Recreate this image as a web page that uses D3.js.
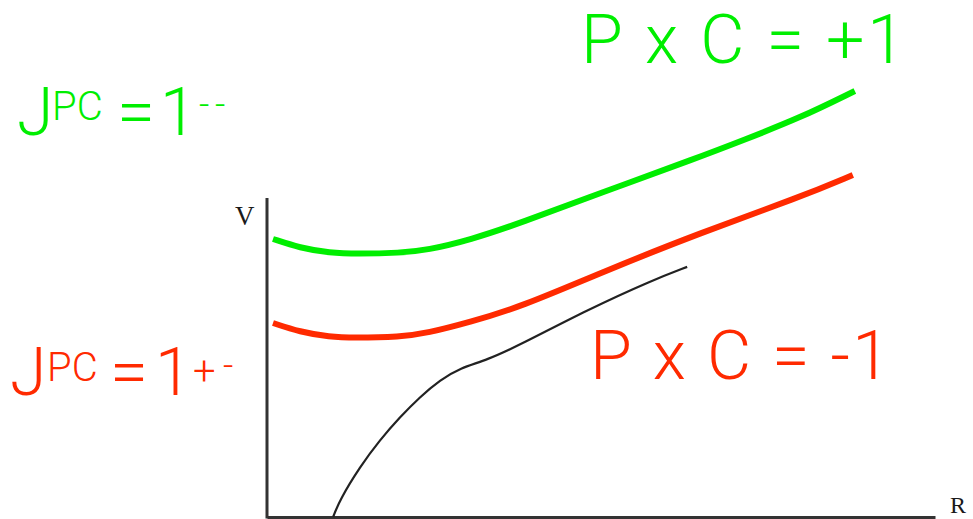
<!DOCTYPE html>
<html>
<head>
<meta charset="utf-8">
<script src="https://cdn.jsdelivr.net/npm/d3@7"></script>
<style>
  html, body { margin: 0; padding: 0; background: #fff; }
  svg { display: block; }
</style>
</head>
<body>
<svg id="chart" width="973" height="519"></svg>
<script>
// Potential V(R) sketches for the two PC = ±1 configurations plus the ground-state curve.
const greenR = [0.9, 4.9, 9.4, 13.5, 19.9, 24.0, 30.4, 37.9, 49.9, 64.8, 71.3, 79.8, 88.0];
const greenV = [87.7, 84.9, 83.3, 83.0, 83.3, 84.2, 87.4, 92.7, 102.2, 113.6, 118.9, 125.9, 134.4];

const redR = [0.9, 4.9, 9.4, 12.9, 19.9, 24.0, 30.4, 37.9, 49.9, 64.8, 79.8, 87.7];
const redV = [61.2, 58.4, 56.8, 56.5, 56.8, 58.0, 61.5, 66.2, 77.0, 89.6, 100.9, 107.9];

const groundR = [9.9, 10.9, 13.9, 16.9, 19.9, 22.9, 25.9, 28.9, 32.9, 37.9, 47.9, 57.8, 62.9];
const groundV = [0, 5.4, 15.8, 24.3, 31.5, 37.9, 43.2, 47.0, 49.5, 54.3, 65.3, 74.8, 78.9];

const svg = d3.select("#chart");

const x = d3.scaleLinear().domain([0, 100]).range([267, 935]);
const y = d3.scaleLinear().domain([0, 100]).range([517, 200]);

// axes: plain lines without ticks
svg.append("g")
  .attr("transform", `translate(0,${y(0)})`)
  .call(d3.axisBottom(x).tickValues([]).tickSizeOuter(0))
  .call(g => g.select(".domain").attr("stroke", "#333").attr("stroke-width", 3));
svg.append("g")
  .attr("transform", `translate(${x(0)},0)`)
  .call(d3.axisLeft(y).tickValues([]).tickSizeOuter(0))
  .call(g => g.select(".domain").attr("stroke", "#333").attr("stroke-width", 3))
  .call(g => g.select(".domain").attr("d", `M0,${y(0) + 1.5}V${y(100) - 2}`));

const serif = "Liberation Serif, DejaVu Serif, serif";
svg.append("text").attr("x", 235).attr("y", 225)
  .attr("font-family", serif).attr("font-size", 27)
  .attr("fill", "#1a1a1a").text("V");
svg.append("text").attr("x", 950).attr("y", 513)
  .attr("font-family", serif).attr("font-size", 24)
  .attr("fill", "#1a1a1a").text("R");

const line = d3.line().x(d => x(d[0])).y(d => y(d[1])).curve(d3.curveBasis);

svg.append("path").datum(d3.zip(groundR, groundV))
  .attr("d", line).attr("fill", "none").attr("stroke", "#222").attr("stroke-width", 2.2);
svg.append("path").datum(d3.zip(redR, redV))
  .attr("d", line).attr("fill", "none").attr("stroke", "#ff2a00").attr("stroke-width", 6);
svg.append("path").datum(d3.zip(greenR, greenV))
  .attr("d", line).attr("fill", "none").attr("stroke", "#00ee00").attr("stroke-width", 6);

const sans = "Roboto, Liberation Sans, Helvetica, Arial, sans-serif";
const GREEN = "#00ee00", RED = "#ff2a00";

function label(tx, ty, size, color, str, len, adjust) {
  const t = svg.append("text").attr("x", tx).attr("y", ty)
    .attr("font-family", sans).attr("font-size", size).attr("fill", color)
    .attr("font-weight", 300).attr("xml:space", "preserve").text(str);
  if (len) t.attr("textLength", len).attr("lengthAdjust", adjust || "spacing");
  return t;
}

label(581, 63, 68, GREEN, "P x C = +1", 324);
label(590, 379, 68, RED, "P x C = -1", 300);

// J^PC = 1^-- and J^PC = 1^+-
label(17, 135, 66, GREEN, "J");
label(52, 120, 40, GREEN, "PC");
label(117, 135, 66, GREEN, "=", 38, "spacingAndGlyphs");
label(160, 135, 66, GREEN, "1");
label(199, 117, 36, GREEN, "-");
label(215, 117, 36, GREEN, "-");

label(10, 395, 66, RED, "J");
label(47, 381, 40, RED, "PC");
label(110, 395, 66, RED, "=", 38, "spacingAndGlyphs");
label(155, 395, 66, RED, "1");
label(193, 385, 40, RED, "+");
label(223, 378, 36, RED, "-");
</script>
</body>
</html>
